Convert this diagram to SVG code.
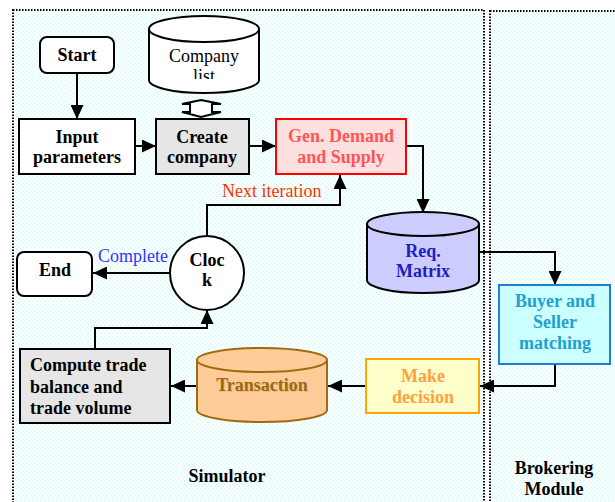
<svg xmlns="http://www.w3.org/2000/svg" width="615" height="502" viewBox="0 0 615 502">
<defs>
<pattern id="dots" width="4" height="4" patternUnits="userSpaceOnUse">
<rect width="4" height="4" fill="#ffffff"/>
<rect x="0" y="0" width="1.5" height="1.5" fill="#d6f9f9"/>
<rect x="2" y="2" width="1.5" height="1.5" fill="#d6f9f9"/>
</pattern>
<marker id="ah" viewBox="0 0 14 13" markerWidth="14" markerHeight="13" refX="14" refY="6.5" orient="auto" markerUnits="userSpaceOnUse">
<path d="M0,0 L14,6.5 L0,13 z" fill="#000"/>
</marker>
<clipPath id="clipList"><rect x="149" y="66" width="110" height="13"/></clipPath>
</defs>
<style>
.region{fill:url(#dots);stroke:#000;stroke-width:2;stroke-dasharray:1.5 1.5}
.box{stroke-width:2}
.t{font-family:"Liberation Serif","Times New Roman",serif;font-size:18px;font-weight:bold;text-anchor:middle}
.r{font-family:"Liberation Serif","Times New Roman",serif;font-size:18px;text-anchor:middle}
.lbl{font-family:"Liberation Serif","Times New Roman",serif;font-size:18px}
.conn{fill:none;stroke:#000;stroke-width:2}
.ts{text-anchor:start}
</style>
<rect width="615" height="502" fill="#fff"/>
<g id="simulator">
<rect class="region" x="13" y="10" width="471" height="500"/>
<text class="t" x="227" y="482" fill="#000">Simulator</text>
</g>
<g id="brokering">
<rect class="region" x="490" y="11" width="132" height="500"/>
<text class="t" x="554" y="474" fill="#000">Brokering</text>
<text class="t" x="554" y="495" fill="#000">Module</text>
</g>
<g id="connectors">
<path class="conn" d="M77,73 L77,119" marker-end="url(#ah)"/>
<path class="conn" d="M135,146 L156,146" marker-end="url(#ah)"/>
<path class="conn" d="M249,146 L276,146" marker-end="url(#ah)"/>
<path class="conn" d="M406,146 L423,146 L423,213" marker-end="url(#ah)"/>
<path class="conn" d="M479,252 L555,252 L555,285" marker-end="url(#ah)"/>
<path class="conn" d="M555,364 L555,386 L480,386" marker-end="url(#ah)"/>
<path class="conn" d="M366,386 L328,386" marker-end="url(#ah)"/>
<path class="conn" d="M197,386 L171,386" marker-end="url(#ah)"/>
<path class="conn" d="M95,348 L95,328 L207,328 L207,310" marker-end="url(#ah)"/>
<path class="conn" d="M207,236 L207,205 L340,205 L340,175" marker-end="url(#ah)"/>
<path class="conn" d="M170,273 L93,273" marker-end="url(#ah)"/>
<path d="M201,100 L221,104 L212,104 L212,112 L221,112 L201,117 L182,112 L190,112 L190,104 L182,104 z" fill="#fff" stroke="#000" stroke-width="2" stroke-linejoin="miter"/>
<text class="lbl" x="222" y="197" fill="#ff3300" font-size="19">Next iteration</text>
<text class="lbl" x="98" y="262" fill="#3333ff">Complete</text>
</g>
<g id="start">
<rect class="box" x="40" y="37" width="74" height="36" rx="7" fill="#fff" stroke="#000"/>
<text class="t" x="77" y="61">Start</text>
</g>
<g id="company-list">
<path d="M149,29 L149,80 A55,13 0 0 0 259,80 L259,29" fill="#fff" stroke="#000" stroke-width="2"/>
<ellipse cx="204" cy="29" rx="55" ry="13" fill="#fff" stroke="#000" stroke-width="2"/>
<text class="r" x="204" y="62">Company</text>
<text class="r" x="204" y="82" clip-path="url(#clipList)">list</text>
</g>
<g id="input-parameters">
<rect class="box" x="19" y="119" width="116" height="55" fill="#fff" stroke="#000"/>
<text class="t" x="77" y="143">Input</text>
<text class="t" x="77" y="163">parameters</text>
</g>
<g id="create-company">
<rect class="box" x="156" y="119" width="93" height="55" fill="#e6e6e6" stroke="#000"/>
<text class="t" x="202" y="143">Create</text>
<text class="t" x="202" y="163">company</text>
</g>
<g id="gen-demand">
<rect class="box" x="276" y="119" width="130" height="55" fill="#ffe0e0" stroke="#ff0000"/>
<text class="t" x="341" y="142" fill="#ff5555">Gen. Demand</text>
<text class="t" x="341" y="163" fill="#ff5555">and Supply</text>
</g>
<g id="req-matrix">
<path d="M367,224 L367,280 A56,13 0 0 0 479,280 L479,224" fill="#ccccff" stroke="#000" stroke-width="2"/>
<ellipse cx="423" cy="224" rx="56" ry="12" fill="#ccccff" stroke="#000" stroke-width="2"/>
<text class="t" x="423" y="257" fill="#1f1fbf">Req.</text>
<text class="t" x="423" y="277" fill="#1f1fbf">Matrix</text>
</g>
<g id="clock">
<circle cx="207" cy="273" r="37" fill="#fff" stroke="#000" stroke-width="2"/>
<text class="t" x="207" y="266" font-size="15">Cloc</text>
<text class="t" x="207" y="286" font-size="15">k</text>
</g>
<g id="end">
<rect class="box" x="17" y="252" width="75" height="44" rx="7" fill="#fff" stroke="#000"/>
<text class="t" x="55" y="276">End</text>
</g>
<g id="buyer-seller">
<rect class="box" x="499" y="285" width="111" height="79" fill="#ccffff" stroke="#1f7fcf"/>
<text class="t" x="555" y="307" fill="#22a0d0">Buyer and</text>
<text class="t" x="555" y="328" fill="#22a0d0">Seller</text>
<text class="t" x="555" y="349" fill="#22a0d0">matching</text>
</g>
<g id="make-decision">
<rect class="box" x="366" y="359" width="113" height="54" fill="#ffffcc" stroke="#ffa500"/>
<text class="t" x="423" y="382" fill="#ffa040">Make</text>
<text class="t" x="423" y="403" fill="#ffa040">decision</text>
</g>
<g id="transaction">
<path d="M197,360 L197,410 A65,12 0 0 0 327,410 L327,360" fill="#ffcc99" stroke="#a06a10" stroke-width="2"/>
<ellipse cx="262" cy="360" rx="65" ry="12" fill="#ffcc99" stroke="#a06a10" stroke-width="2"/>
<text class="t" x="263" y="392" fill="#e0b080" opacity="0.6">Transaction</text>
<text class="t" x="262" y="391" fill="#9a6a10">Transaction</text>
</g>
<g id="compute-trade">
<rect class="box" x="20" y="349" width="150" height="74" fill="#e6e6e6" stroke="#000"/>
<text class="t ts" x="30" y="371">Compute trade</text>
<text class="t ts" x="30" y="393">balance and</text>
<text class="t ts" x="30" y="414">trade volume</text>
</g>
</svg>
